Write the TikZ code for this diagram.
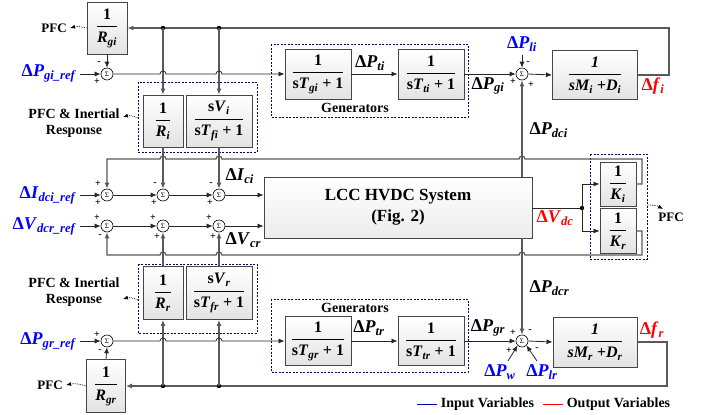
\documentclass[tikz,border=0pt]{standalone}
\usepackage{fontspec}
\setmainfont{Liberation Serif}
\usetikzlibrary{arrows.meta}
\newcommand{\sv}[2]{\textit{#1}\textsubscript{\textit{#2}}}
\newcommand{\tf}[2]{$\displaystyle\frac{\mbox{#1}}{\mbox{#2}}$}
\begin{document}
\begin{tikzpicture}[x=1pt,y=1pt,>={Latex[length=6pt,width=5pt]},font=\bfseries,
    blk/.style={draw=gray!55!black,line width=0.9pt,top color=white,bottom color=gray!22,inner sep=0pt,font=\fontsize{16}{18}\selectfont\bfseries},
    sumn/.style={circle,draw,line width=0.6pt,minimum size=12pt,inner sep=0pt,font=\fontsize{7}{7}\selectfont},
    sig/.style={black!85,line width=0.8pt},
    fb/.style={gray!70!black,line width=1.2pt},
    grp/.style={draw=blue!40!black,dash pattern=on 2pt off 1.5pt,line width=0.9pt},
    var/.style={font=\fontsize{18}{20}\selectfont\bfseries},
    inv/.style={var,blue},
    outv/.style={var,red},
    lbl/.style={font=\fontsize{14}{16}\selectfont\bfseries,align=center},
    pfcl/.style={font=\fontsize{13}{14}\selectfont\bfseries},
    sg/.style={font=\fontsize{10}{10}\selectfont\bfseries,inner sep=0pt},
    pfca/.style={->,densely dotted,line width=0.7pt,>={Latex[length=5pt,width=4pt]}}]
    \useasboundingbox (0,0) rectangle (710,-415);
    % upper area
    \node[blk,minimum width=40,minimum height=52] (rgi) at (107,-28) {\tf{1}{\sv{R}{gi}}};
    \node[pfcl] (pfc1) at (54,-28) {PFC};
    \node[sumn] (sgi) at (107,-74) {Σ};
    \node[inv,anchor=east] (gref) at (80,-73) {Δ\sv{P}{gi\_ref}};
    \node[blk,minimum width=66,minimum height=50] (tgi) at (318,-74) {\tf{1}{s\sv{T}{gi} + 1}};
    \node[blk,minimum width=66,minimum height=50] (tti) at (431,-74) {\tf{1}{s\sv{T}{ti} + 1}};
    \draw[grp] (271,-44) rectangle (468,-117);
    \node[lbl] (gen1) at (355,-108) {Generators};
    \node[var] (pti) at (370,-63) {Δ\sv{P}{ti}};
    \node[var] (pgi) at (488,-86) {Δ\sv{P}{gi}};
    \node[sumn] (si) at (522,-74) {Σ};
    \node[inv] (pli) at (522,-44) {Δ\sv{P}{li}};
    \node[blk,minimum width=85,minimum height=49] (mi) at (595,-75) {\tf{\textit{1}}{\textit{s\sv{M}{i} +\sv{D}{i}}}};
    \node[outv] (dfi) at (653,-86) {Δ\sv{f}{i}};
    \node[blk,minimum width=40,minimum height=52] (ri) at (163,-121) {\tf{1}{\sv{R}{i}}};
    \node[blk,minimum width=66,minimum height=52] (svi) at (219,-121) {\tf{s\sv{V}{i}}{s\sv{T}{fi} + 1}};
    \draw[grp] (138,-82) rectangle (257,-152);
    \node[lbl,anchor=east] (pir1) at (123,-123) {PFC \& Inertial\\Response};
    % middle area
    \foreach \n/\x in {1/107,2/163,3/219} {
        \node[sumn] (sa\n) at (\x,-195) {Σ};
        \node[sumn] (sb\n) at (\x,-226) {Σ};
    }
    \node[inv,anchor=east] (iref) at (80,-195) {Δ\sv{I}{dci\_ref}};
    \node[inv,anchor=east] (vref) at (80,-226) {Δ\sv{V}{dcr\_ref}};
    \node[draw=gray!55!black,line width=0.9pt,top color=white,bottom color=gray!15,minimum width=268,minimum height=61,align=center,font=\fontsize{17}{21}\selectfont\bfseries] (hvdc) at (398,-207.5) {LCC HVDC System\\(Fig. 2)};
    \node[var,anchor=west] (ici) at (222,-176) {Δ\sv{I}{ci}};
    \node[var,anchor=west] (vcr) at (222,-240) {Δ\sv{V}{cr}};
    \node[var,anchor=west] (pdci) at (526,-130) {Δ\sv{P}{dci}};
    \node[var,anchor=west] (pdcr) at (526,-288) {Δ\sv{P}{dcr}};
    \node[blk,minimum width=36,minimum height=44] (ki) at (618,-184) {\tf{1}{\sv{K}{i}}};
    \node[blk,minimum width=36,minimum height=45] (kr) at (618,-231) {\tf{1}{\sv{K}{r}}};
    \draw[grp] (590,-154) rectangle (647,-259);
    \coordinate (vdc) at (582,-208);
    \node[outv] (vdcl) at (555,-218) {Δ\sv{V}{dc}};
    \node[pfcl] (pfck) at (671,-217) {PFC};
    % lower area
    \node[blk,minimum width=40,minimum height=53] (rr) at (163,-293) {\tf{1}{\sv{R}{r}}};
    \node[blk,minimum width=66,minimum height=53] (svr) at (219,-293) {\tf{s\sv{V}{r}}{s\sv{T}{fr} + 1}};
    \draw[grp] (138,-264) rectangle (257,-333);
    \node[lbl,anchor=east] (pir2) at (123,-292) {PFC \& Inertial\\Response};
    \node[sumn] (sgr) at (107,-341) {Σ};
    \node[inv,anchor=east] (grref) at (80,-341) {Δ\sv{P}{gr\_ref}};
    \node[blk,minimum width=39,minimum height=53] (rgr) at (106,-386) {\tf{1}{\sv{R}{gr}}};
    \node[pfcl] (pfc3) at (50,-385) {PFC};
    \node[blk,minimum width=66,minimum height=49] (tgr) at (318,-341) {\tf{1}{s\sv{T}{gr} + 1}};
    \node[blk,minimum width=66,minimum height=49] (ttr) at (431,-341) {\tf{1}{s\sv{T}{tr} + 1}};
    \draw[grp] (271,-299) rectangle (468,-372);
    \node[lbl] (gen2) at (355,-308) {Generators};
    \node[var] (ptr) at (369,-328) {Δ\sv{P}{tr}};
    \node[var] (pgr) at (488,-328) {Δ\sv{P}{gr}};
    \node[sumn] (sr) at (522,-341) {Σ};
    \node[blk,minimum width=84,minimum height=50] (mr) at (595,-342) {\tf{\textit{1}}{\textit{s\sv{M}{r} +\sv{D}{r}}}};
    \node[outv] (dfr) at (652,-330) {Δ\sv{f}{r}};
    \node[inv] (pw) at (500,-372) {Δ\sv{P}{w}};
    \node[inv] (plr) at (542,-372) {Δ\sv{P}{lr}};
    \coordinate (pwt) at (508,-361);
    \coordinate (plt) at (537,-361);
    % signs
    \foreach \x/\y/\t [count=\k] in {99/63/-,97/82/+,528/63/-,513/82/+,531/85/+,
        98/184/+,98/203/+,155/184/-,154/203/+,211/184/-,210/203/+,
        97/218/+,100/236/-,153/218/+,157/237/+,209/218/+,213/237/+,
        97/335/+,100/351/-,513/333/+,530/331/-,509/351/+,537/349/-}
        \node[sg] (sgn\k) at (\x,-\y) {\t};
    % upper connectors
    \draw[fb,->] (mi.east) -- (669,-75) -- (669,-28) -- (rgi.east);
    \fill (163,-28) circle (2.2pt) (219,-28) circle (2.2pt);
    \draw[fb,->] (163,-28) -- (ri.north);
    \draw[fb,->] (219,-28) -- (svi.north);
    \draw[pfca] (rgi.west) to[bend right=15] (pfc1.east);
    \draw[sig,->] (rgi.south) -- (sgi.north);
    \draw[sig,->] (gref.east |- sgi) -- (sgi.west);
    \draw[sig,->] (sgi.east) -- (160,-74) arc(180:0:3) -- (216,-74) arc(180:0:3) -- (tgi.west);
    \draw[sig,->] (tgi.east) -- (tti.west);
    \draw[sig,->] (tti.east) -- (si.west);
    \draw[sig,->] (pli.south) -- (si.north);
    \draw[sig,->] (si.east) -- (mi.west);
    \draw[fb,->] (hvdc.north -| si) -- (si.south);
    \draw[pfca] (138,-118) to[bend right=20] (pir1.east |- 0,-117);
    % middle connectors
    \draw[fb,->] (ki.east) -- (642,-184) -- (642,-159) -- (525,-159) arc(0:180:3) -- (222,-159) arc(0:180:3) -- (166,-159) arc(0:180:3) -- (107,-159) -- (sa1.north);
    \draw[fb,->] (kr.east) -- (642,-231) -- (642,-255) -- (525,-255) arc(0:180:3) -- (222,-255) arc(0:180:3) -- (166,-255) arc(0:180:3) -- (107,-255) -- (sb1.south);
    \draw[fb,->] (ri.south) -- (sa2.north);
    \draw[fb,->] (svi.south) -- (sa3.north);
    \draw[fb,->] (rr.north) -- (sb2.south);
    \draw[fb,->] (svr.north) -- (sb3.south);
    \draw[sig,->] (iref.east) -- (sa1.west);
    \draw[sig,->] (sa1.east) -- (sa2.west);
    \draw[sig,->] (sa2.east) -- (sa3.west);
    \draw[sig,->] (sa3.east) -- (sa3 -| hvdc.west);
    \draw[sig,->] (vref.east) -- (sb1.west);
    \draw[sig,->] (sb1.east) -- (sb2.west);
    \draw[sig,->] (sb2.east) -- (sb3.west);
    \draw[sig,->] (sb3.east) -- (sb3 -| hvdc.west);
    \draw[sig] (hvdc.east |- vdc) -- (vdc);
    \fill (vdc) circle (2.2pt);
    \draw[sig,->] (vdc) |- (ki.west);
    \draw[sig,->] (vdc) |- (kr.west);
    \draw[pfca] (647,-205) to[bend left=15] (663,-209);
    % lower connectors
    \draw[fb,->] (mr.east) -- (667,-342) -- (667,-386) -- (rgr.east);
    \fill (163,-386) circle (2.2pt) (219,-386) circle (2.2pt);
    \draw[fb,->] (163,-386) -- (rr.south);
    \draw[fb,->] (219,-386) -- (svr.south);
    \draw[pfca] (rgr.west) to[bend right=15] (pfc3.east);
    \draw[sig,->] (rgr.north) -- (sgr.south);
    \draw[sig,->] (grref.east |- sgr) -- (sgr.west);
    \draw[sig,->] (sgr.east) -- (160,-341) arc(180:0:3) -- (216,-341) arc(180:0:3) -- (tgr.west);
    \draw[sig,->] (tgr.east) -- (ttr.west);
    \draw[sig,->] (ttr.east) -- (sr.west);
    \draw[sig,->] (sr.east) -- (mr.west);
    \draw[fb,->] (hvdc.south -| sr) -- (sr.north);
    \draw[sig,->] (pwt) -- (sr.south west);
    \draw[sig,->] (plt) -- (sr.south east);
    \draw[pfca] (138,-300) to[bend right=20] (pir2.east |- 0,-299);
    % legend
    \draw[blue!70!black,line width=1pt] (417,-404) -- (437,-404) node[lbl,right,black] (leg1) {Input Variables};
    \draw[red,line width=1pt] (543,-404) -- (563,-404) node[lbl,right,black] (leg2) {Output Variables};
\end{tikzpicture}
\end{document}
